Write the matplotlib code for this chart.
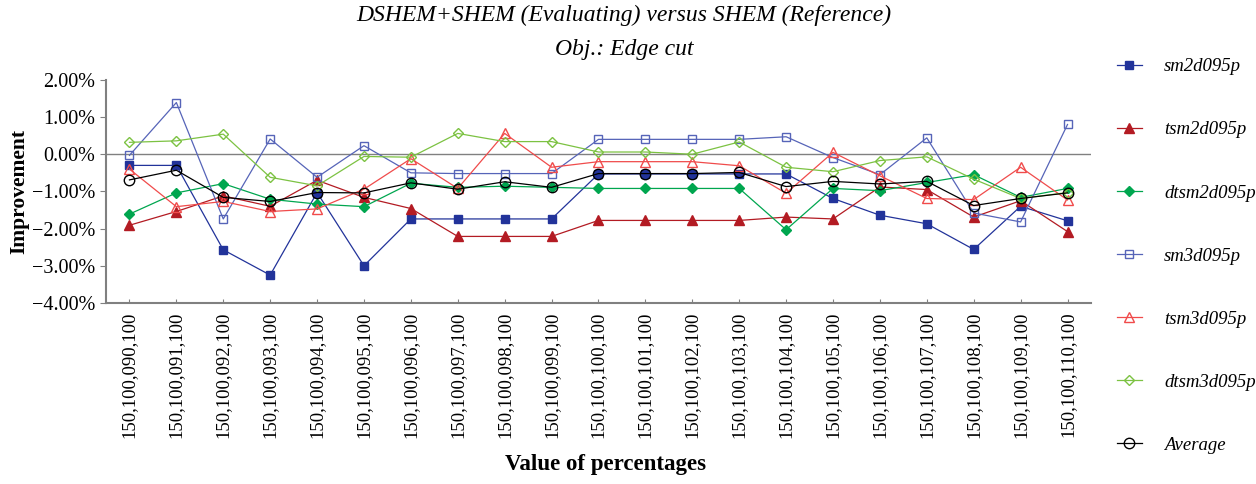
import matplotlib.pyplot as plt
from matplotlib.ticker import FuncFormatter

# category labels on x axis
labels = ["150,100,%03d,100" % k for k in range(90, 111)]

# values (percent improvement)
sm2d095p = [-0.30, -0.30, -2.57, -3.25, -1.03, -3.00, -1.74, -1.74, -1.74, -1.74,
            -0.53, -0.53, -0.53, -0.53, -0.53, -1.19, -1.64, -1.87, -2.56, -1.40, -1.79]
tsm2d095p = [-1.91, -1.54, -1.12, -1.40, -0.70, -1.16, -1.46, -2.21, -2.21, -2.21,
             -1.78, -1.78, -1.78, -1.78, -1.69, -1.74, -0.88, -0.95, -1.69, -1.25, -2.08]
dtsm2d095p = [-1.61, -1.04, -0.79, -1.21, -1.34, -1.41, -0.78, -0.89, -0.86, -0.89,
              -0.92, -0.92, -0.92, -0.92, -2.03, -0.92, -0.98, -0.76, -0.55, -1.16, -0.92]
sm3d095p = [-0.03, 1.39, -1.74, 0.41, -0.62, 0.23, -0.50, -0.52, -0.52, -0.52,
            0.40, 0.40, 0.40, 0.40, 0.47, -0.09, -0.55, 0.44, -1.58, -1.82, 0.80]
tsm3d095p = [-0.40, -1.41, -1.27, -1.54, -1.47, -0.94, -0.12, -0.92, 0.56, -0.35,
             -0.20, -0.20, -0.20, -0.31, -1.05, 0.05, -0.58, -1.19, -1.22, -0.35, -1.23]
dtsm3d095p = [0.32, 0.36, 0.54, -0.62, -0.85, -0.06, -0.08, 0.56, 0.34, 0.34,
              0.06, 0.06, 0.00, 0.33, -0.35, -0.47, -0.17, -0.07, -0.67, -1.19, -1.03]
average = [-0.69, -0.43, -1.16, -1.27, -1.03, -1.04, -0.77, -0.94, -0.74, -0.89,
           -0.52, -0.52, -0.52, -0.49, -0.87, -0.73, -0.80, -0.73, -1.38, -1.19, -1.04]

plt.rcParams['font.family'] = ['Liberation Serif', 'DejaVu Serif']

fig = plt.figure(figsize=(12.56, 4.84), dpi=100)
ax = fig.add_axes([0.0844, 0.374, 0.7842, 0.461])

x = list(range(len(labels)))

# (data, label, color, marker, filled)
series = [
    (sm2d095p, "sm2d095p", "#22339a", "s", True),
    (tsm2d095p, "tsm2d095p", "#b31b23", "^", True),
    (dtsm2d095p, "dtsm2d095p", "#00a64f", "D", True),
    (sm3d095p, "sm3d095p", "#5664b8", "s", False),
    (tsm3d095p, "tsm3d095p", "#f04b4b", "^", False),
    (dtsm3d095p, "dtsm3d095p", "#7cc242", "D", False),
    (average, "Average", "#000000", "o", False),
]

for data, name, col, mk, filled in series:
    ms = 5.8
    if mk == "^":
        ms = 6.5
    if mk == "D":
        ms = 5.2
    if mk == "o":
        ms = 7.5
    ax.plot(x, data, color=col, lw=0.9, marker=mk, markersize=ms,
            markerfacecolor=col if filled else "none",
            markeredgecolor=col, markeredgewidth=1.0, label=name)

ax.axhline(0, color="#808080", lw=1.0, zorder=0)

ax.set_xlim(-0.5, 20.5)
ax.set_ylim(-4, 2)
ax.set_yticks([2, 1, 0, -1, -2, -3, -4])
ax.yaxis.set_major_formatter(FuncFormatter(lambda v, p: ("%.2f%%" % v).replace("-", "\u2212")))
ax.set_xticks(x)
ax.set_xticklabels(labels, rotation=90, fontsize=13.5)
ax.tick_params(axis="y", labelsize=14.5, length=4, color="#808080", direction="out")
ax.tick_params(axis="x", length=3, color="#808080", direction="in", pad=6)

for s in ["top", "right"]:
    ax.spines[s].set_visible(False)
for s in ["left", "bottom"]:
    ax.spines[s].set_color("#808080")
    ax.spines[s].set_linewidth(1.5)

ax.set_ylabel("Improvement", fontsize=15.5, fontweight="bold", labelpad=2)
fig.text(0.482, 0.04, "Value of percentages", ha="center", va="center",
         fontsize=16.5, fontweight="bold")

fig.text(0.497, 0.99, "DSHEM+SHEM (Evaluating) versus SHEM (Reference)", ha="center", va="top",
         fontsize=17, style="italic")
fig.text(0.497, 0.92, "Obj.: Edge cut", ha="center", va="top", fontsize=17, style="italic")

leg = fig.legend(loc="center left", bbox_to_anchor=(0.876, 0.471), frameon=False,
                 labelspacing=2.45, handlelength=1.3, handletextpad=1.2,
                 prop={"style": "italic", "size": 13.5})

fig.savefig("out.png", dpi=100)
